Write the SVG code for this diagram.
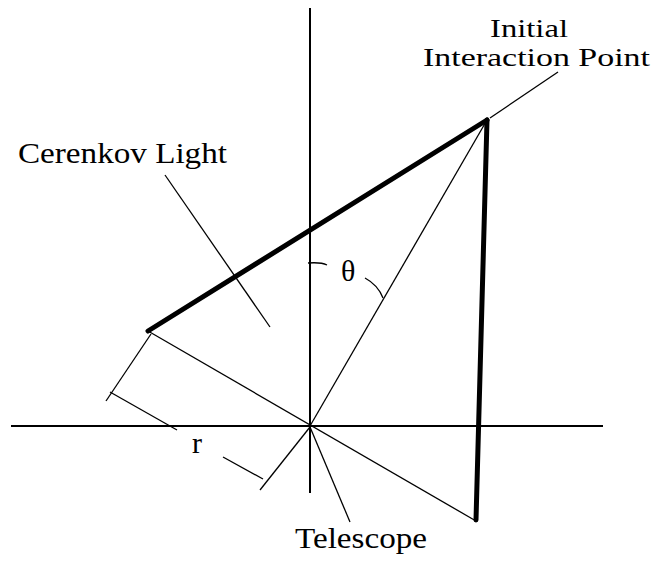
<svg xmlns="http://www.w3.org/2000/svg" width="658" height="562" viewBox="0 0 658 562">
<style>
.axis{stroke:#000;stroke-width:2;fill:none}
.thin{stroke:#000;stroke-width:1.3;fill:none}
.thick{stroke:#000;stroke-width:5;fill:none;stroke-linecap:round}
.lbl{font-family:"Liberation Serif","Times New Roman",serif;font-size:30px;fill:#000}
.lbl2{font-family:"Liberation Serif","Times New Roman",serif;font-size:26px;fill:#000}
</style>
<rect width="658" height="562" fill="#fff"/>
<g id="axes">
<line class="axis" x1="310" y1="8" x2="310" y2="493"/>
<line class="axis" x1="11" y1="426" x2="603" y2="426"/>
</g>
<g id="connectors">
<line class="thin" x1="148" y1="331" x2="476" y2="521"/>
<line class="thin" x1="487" y1="120" x2="310" y2="426"/>
<line class="thin" x1="490" y1="118" x2="558" y2="72"/>
<line class="thin" x1="165" y1="175" x2="270" y2="327"/>
<line class="thin" x1="310" y1="427" x2="350" y2="522"/>
<line class="thin" x1="151" y1="334" x2="106" y2="401"/>
<line class="thin" x1="110" y1="392" x2="177" y2="430"/>
<line class="thin" x1="310" y1="427" x2="260" y2="490"/>
<line class="thin" x1="223" y1="457" x2="263" y2="479"/>
<path class="thin" d="M308,263 Q321,262 327,265"/>
<path class="thin" d="M365,278 Q378,285 383,298"/>
<line class="thick" x1="487" y1="120" x2="148" y2="331"/>
<line class="thick" x1="487" y1="120" x2="476" y2="520"/>
</g>
<g id="label-initial">
<text class="lbl2" x="490" y="37" textLength="78" lengthAdjust="spacingAndGlyphs">Initial</text>
<text class="lbl2" x="423" y="66" textLength="227" lengthAdjust="spacingAndGlyphs">Interaction Point</text>
</g>
<g id="label-cerenkov">
<text class="lbl" x="18" y="163" textLength="209" lengthAdjust="spacingAndGlyphs">Cerenkov Light</text>
</g>
<g id="label-theta">
<text class="lbl" x="341" y="281">θ</text>
</g>
<g id="label-r">
<text class="lbl" x="192" y="453">r</text>
</g>
<g id="label-telescope">
<text class="lbl" x="295" y="548" textLength="132" lengthAdjust="spacingAndGlyphs">Telescope</text>
</g>
</svg>
